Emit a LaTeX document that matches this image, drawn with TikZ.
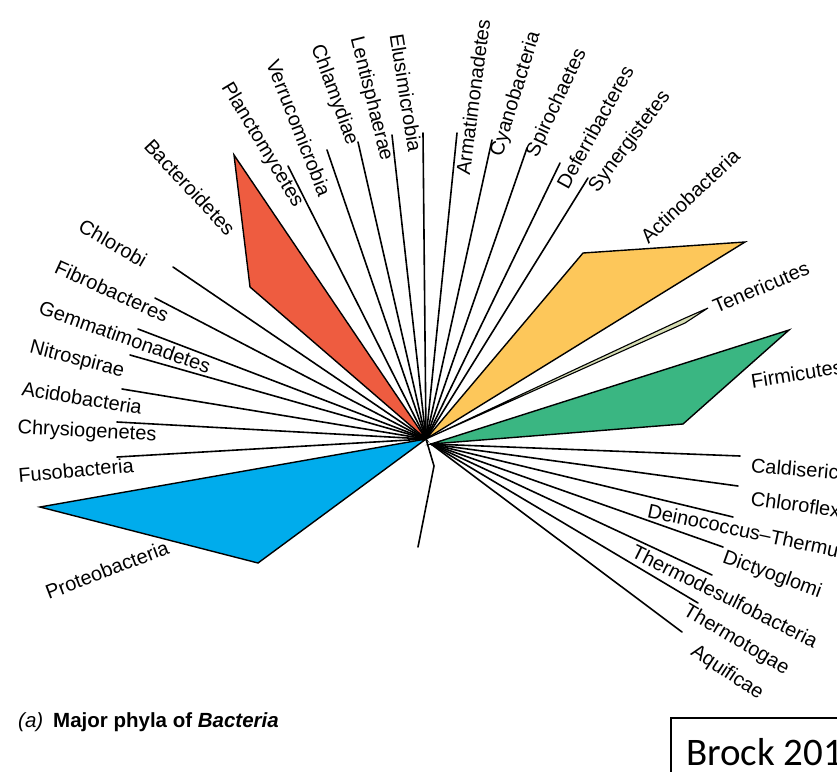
\documentclass[tikz,border=0pt]{standalone}
\usepackage{fontspec}
\setmainfont{Liberation Sans}
\newfontfamily\brockfont{Carlito}
\definecolor{cRed}{RGB}{238,92,64}
\definecolor{cYel}{RGB}{253,199,90}
\definecolor{cGrn}{RGB}{58,182,130}
\definecolor{cBlu}{RGB}{0,172,236}
\definecolor{cPale}{RGB}{214,222,180}
\begin{document}
\begin{tikzpicture}[x=1pt,y=-1pt,
  branch/.style={line width=1.6pt, black, line cap=round},
  clade/.style={draw=black, line width=1.4pt, line join=miter},
  lab/.style={font=\fontsize{20}{23}\selectfont, inner sep=0pt},
  captext/.style={font=\fontsize{20.5}{24}\selectfont, inner sep=0pt, anchor=base west}]
\useasboundingbox (0,0) rectangle (837,771);

% hubs
\coordinate (c) at (426,439);
\coordinate (cr) at (431,444);

% clades (polygons)
\coordinate (bac1) at (234,155); \coordinate (bac2) at (250,287);
\filldraw[clade, fill=cRed] (bac1) -- (bac2) -- (c) -- cycle;
\coordinate (act1) at (583,253); \coordinate (act2) at (745,242);
\filldraw[clade, fill=cYel] (c) -- (act1) -- (act2) -- cycle;
\coordinate (ten1) at (683,319); \coordinate (ten2) at (708,308); \coordinate (ten3) at (685,323);
\filldraw[clade, fill=cPale, line width=1.1pt] (c) -- (ten1) -- (ten2) -- (ten3) -- cycle;
\coordinate (fir1) at (789,330); \coordinate (fir2) at (683,424);
\filldraw[clade, fill=cGrn] (cr) -- (fir1) -- (fir2) -- cycle;
\coordinate (pro1) at (40,507); \coordinate (pro2) at (258,563);
\filldraw[clade, fill=cBlu] (pro1) -- (pro2) -- (c) -- cycle;

% branch ends
\coordinate (ePla) at (288,166);
\coordinate (eVer) at (327,150);
\coordinate (eChl) at (358,142);
\coordinate (eLen) at (392,135);
\coordinate (eElu) at (423,133);
\coordinate (eArm) at (457,133);
\coordinate (eCya) at (492,140);
\coordinate (eSpi) at (527,148);
\coordinate (eDef) at (560,163);
\coordinate (eSyn) at (588,178);
\coordinate (eCbi) at (173,267);
\coordinate (eFib) at (155,298);
\coordinate (eGem) at (138,329);
\coordinate (eNit) at (130,355);
\coordinate (eAci) at (122,389);
\coordinate (eChr) at (117,422);
\coordinate (eFus) at (117,457);
\coordinate (eCal) at (740,456);
\coordinate (eCfl) at (738,486);
\coordinate (eDei) at (733,517);
\coordinate (eDic) at (723,547);
\coordinate (eThd) at (712,575);
\coordinate (eTht) at (698,603);
\coordinate (eAqu) at (682,632);
\coordinate (rootk) at (434,466);
\coordinate (root) at (418,547);

\foreach \e in {ePla,eVer,eChl,eLen,eElu,eArm,eCya,eSpi,eDef,eSyn,eCbi,eFib,eGem,eNit,eAci,eChr,eFus}
  \draw[branch] (c) -- (\e);
\foreach \e in {eCal,eCfl,eDei,eDic,eThd,eTht,eAqu}
  \draw[branch] (cr) -- (\e);
\draw[branch] (c) -- (rootk) -- (root);

% labels
\node[lab, rotate=-47]   (lBac) at (190,187) {Bacteroidetes};
\node[lab, rotate=-59]   (lPla) at (262,145) {Planctomycetes};
\node[lab, rotate=-68.5] (lVer) at (299,128) {Verrucomicrobia};
\node[lab, rotate=-70]   (lChl) at (334,95)  {Chlamydiae};
\node[lab, rotate=-76]   (lLen) at (371,99)  {Lentisphaerae};
\node[lab, rotate=-81]   (lElu) at (406,93)  {Elusimicrobia};
\node[lab, rotate=82.5]  (lArm) at (473,97)  {Armatimonadetes};
\node[lab, rotate=73]    (lCya) at (516,94)  {Cyanobacteria};
\node[lab, rotate=65]    (lSpi) at (557,103) {Spirochaetes};
\node[lab, rotate=61]    (lDef) at (595,127) {Deferribacteres};
\node[lab, rotate=53]    (lSyn) at (630,142) {Synergistetes};
\node[lab, rotate=43]    (lAct) at (690,196) {Actinobacteria};
\node[lab, rotate=23]    (lTen) at (761,287) {Tenericutes};
\node[lab, rotate=9, anchor=west]  (lFir) at (751,381) {Firmicutes};
\node[lab, rotate=-5, anchor=west] (lCal) at (751,465) {Caldiserica};
\node[lab, rotate=-8, anchor=west] (lCfl) at (751,498) {Chloroflexi};
\node[lab, rotate=-12, anchor=west] (lDei) at (648,510) {Deinococcus–Thermus};
\node[lab, rotate=-20]   (lDic) at (772,575) {Dictyoglomi};
\node[lab, rotate=-26.5] (lThd) at (725,596) {Thermodesulfobacteria};
\node[lab, rotate=-30.5] (lTht) at (736,640) {Thermotogae};
\node[lab, rotate=-33.5] (lAqu) at (727,673) {Aquificae};
\node[lab, rotate=-30]   (lCbi) at (113,243) {Chlorobi};
\node[lab, rotate=-24.5] (lFib) at (112,291) {Fibrobacteres};
\node[lab, rotate=-19.5] (lGem) at (125,337) {Gemmatimonadetes};
\node[lab, rotate=-14.5] (lNit) at (77,360)  {Nitrospirae};
\node[lab, rotate=-9]    (lAci) at (82,398)  {Acidobacteria};
\node[lab, rotate=-3]    (lChr) at (87,432)  {Chrysiogenetes};
\node[lab, rotate=5]     (lFus) at (76,470)  {Fusobacteria};
\node[lab, rotate=21]    (lPro) at (107,570) {Proteobacteria};

% caption
\node[captext] (capA) at (18,727) {\itshape (a)};
\node[captext] (capB) at (53,727) {\bfseries Major phyla of \itshape Bacteria};

% source box
\draw[line width=1.8pt] (671,718) rectangle (900,820);
\node[anchor=base west, inner sep=0pt, font=\brockfont\fontsize{39}{43}\selectfont] (brock) at (686,765) {Brock 201};
\end{tikzpicture}
\end{document}
